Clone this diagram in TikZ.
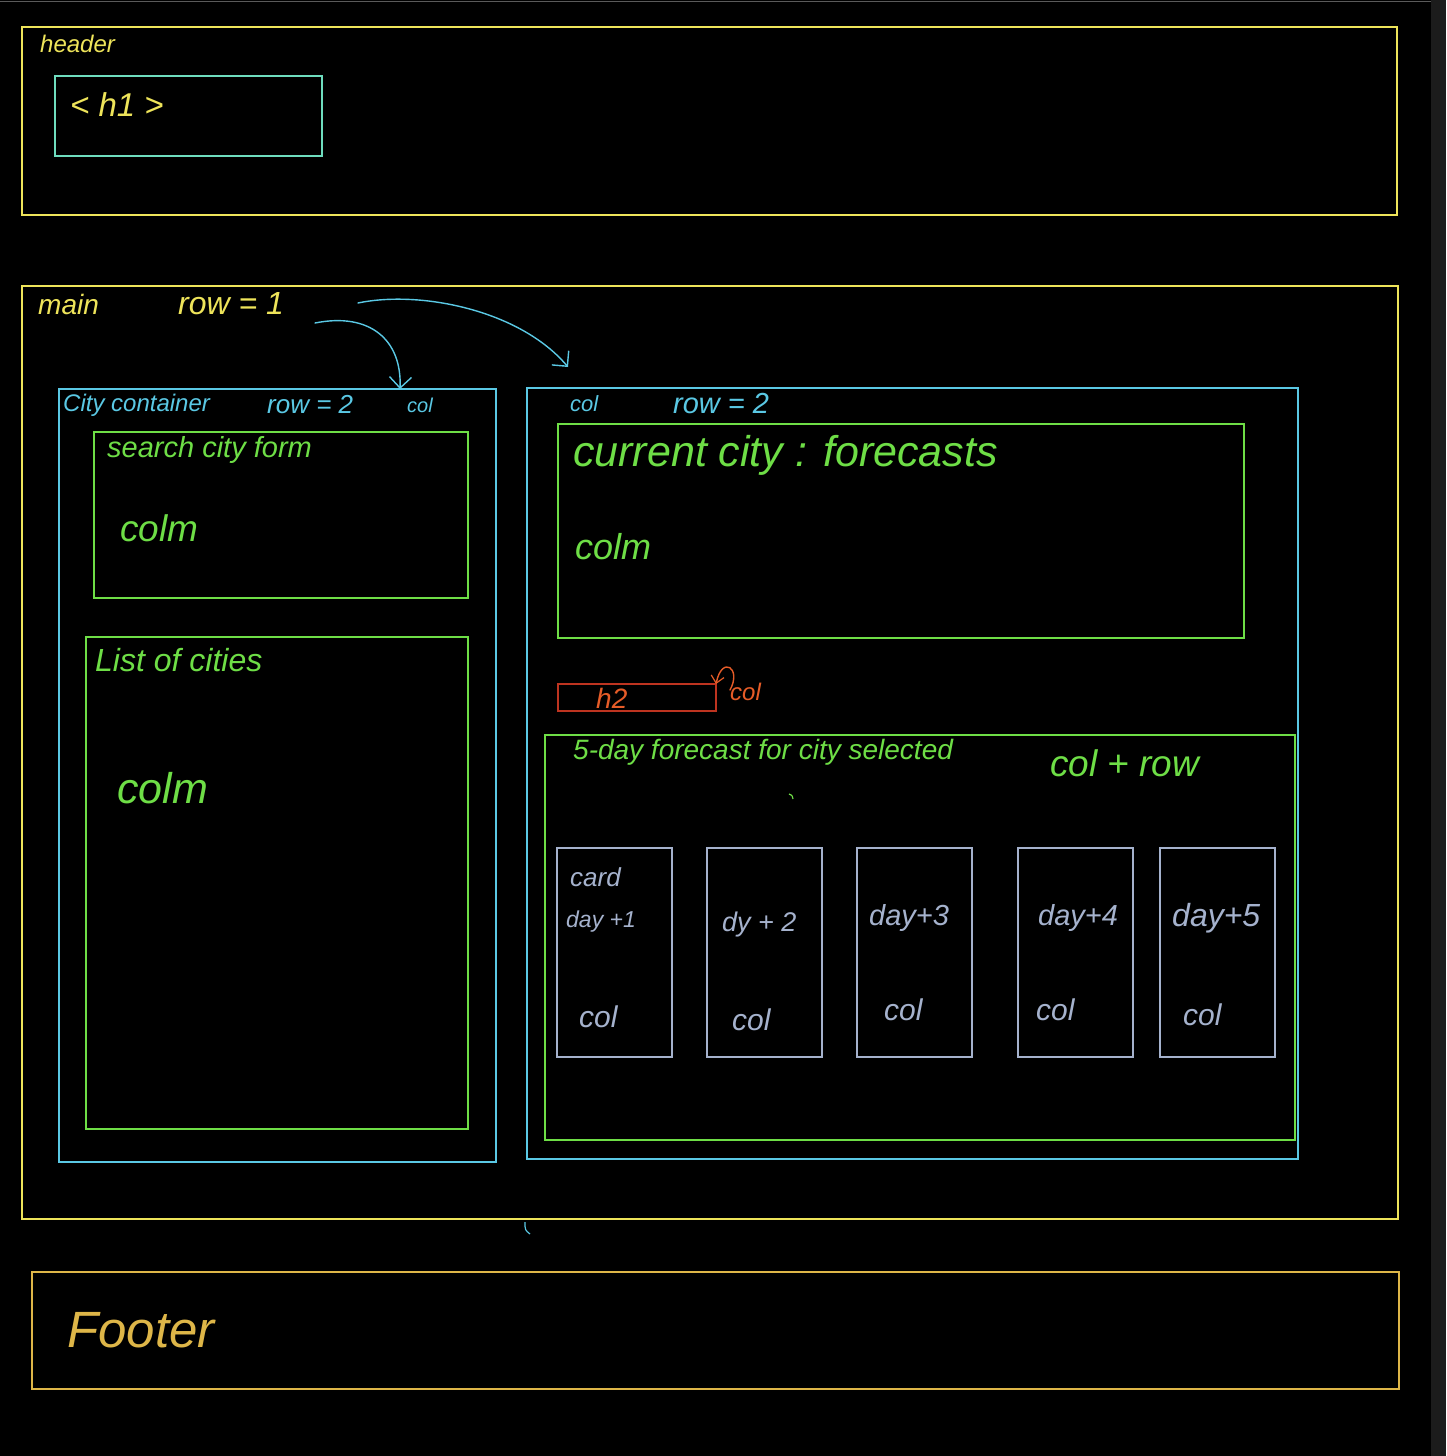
\documentclass[tikz,border=0pt]{standalone}
\usepackage{fontspec}
\setmainfont{Liberation Sans}
\usetikzlibrary{arrows.meta}
\definecolor{cYel}{RGB}{238,228,90}
\definecolor{cTeal}{RGB}{110,220,190}
\definecolor{cCyan}{RGB}{90,200,228}
\definecolor{cGreen}{RGB}{110,222,70}
\definecolor{cRedBox}{RGB}{190,52,32}
\definecolor{cOrange}{RGB}{230,92,40}
\definecolor{cCard}{RGB}{165,178,205}
\definecolor{cGold}{RGB}{222,182,72}
\definecolor{cStrip}{RGB}{28,28,28}
\definecolor{cTopLine}{RGB}{90,90,90}
\newcommand{\sz}[1]{\fontsize{#1}{#1}\selectfont}
\begin{document}
\begin{tikzpicture}[x=1pt,y=-1pt,
  box/.style={draw, line width=1.6pt, anchor=north west, inner sep=0pt, outer sep=0pt},
  lbl/.style={anchor=west, inner sep=0pt, font=\itshape},
  hand/.style={line width=1.4pt, line cap=round},
  barb/.style={-{Straight Barb[length=11pt,width=22pt,line width=1.4pt]}}
]
\useasboundingbox (0,0) rectangle (1446,1456);
\fill[black] (0,0) rectangle (1446,1456);
\fill[cStrip] (1431,0) rectangle (1446,1456);
\draw[cTopLine, line width=1pt] (0,1) -- (1431,1);

% header
\node[box, cYel, minimum width=1375pt, minimum height=188pt] (header) at (22,27) {};
\node[lbl, cYel] (headerT) at (40,44) {\sz{24}header};
\node[box, cTeal, minimum width=267pt, minimum height=80pt] (h1box) at (55,76) {};
\node[lbl, cYel] (h1T) at (70,105) {\sz{33}< h1 >};

% main
\node[box, cYel, minimum width=1376pt, minimum height=933pt] (main) at (22,286) {};
\node[lbl, cYel] (mainT) at (38,304) {\sz{28}main};
\node[lbl, cYel] (row1T) at (178,304) {\sz{32}row = 1};

% city container
\node[box, cCyan, minimum width=437pt, minimum height=773pt] (city) at (59,389) {};
\node[lbl, cCyan] (cityT) at (63,405) {\sz{24}City container};
\node[lbl, cCyan] (cityRow) at (267,405) {\sz{26}row = 2};
\node[lbl, cCyan] (cityCol) at (407,405) {\sz{20}col};

\node[box, cGreen, minimum width=374pt, minimum height=166pt] (search) at (94,432) {};
\node[lbl, cGreen] (searchT) at (107,450) {\sz{29}search city form};
\node[lbl, cGreen] (searchC) at (120,528) {\sz{37}colm};

\node[box, cGreen, minimum width=382pt, minimum height=492pt] (list) at (86,637) {};
\node[lbl, cGreen] (listT) at (95,660) {\sz{32}List of cities};
\node[lbl, cGreen] (listC) at (117,788) {\sz{43}colm};

% right column
\node[box, cCyan, minimum width=771pt, minimum height=771pt] (rcol) at (527,388) {};
\node[lbl, cCyan] (rcolT) at (570,404) {\sz{22}col};
\node[lbl, cCyan] (rcolRow) at (673,404) {\sz{29}row = 2};

\node[box, cGreen, minimum width=686pt, minimum height=214pt] (current) at (558,424) {};
\node[lbl, cGreen] (currentT) at (573,455) {\sz{43}current city : forecasts};
\node[lbl, cGreen] (currentC) at (575,547) {\sz{36}colm};

\node[box, cRedBox, minimum width=158pt, minimum height=27pt] (h2box) at (558,684) {};
\node[lbl, cOrange] (h2T) at (596,698) {\sz{28}h2};
\node[lbl, cOrange] (h2col) at (730,692) {\sz{24}col};

\node[box, cGreen, minimum width=750pt, minimum height=405pt] (five) at (545,735) {};
\node[lbl, cGreen] (fiveT) at (573,752) {\sz{28}5-day forecast for city selected};
\node[lbl, cGreen] (fiveC) at (1050,763) {\sz{37}col + row};

% cards
\node[box, cCard, minimum width=115pt, minimum height=209pt] (card1) at (557,848) {};
\node[box, cCard, minimum width=115pt, minimum height=209pt] (card2) at (707,848) {};
\node[box, cCard, minimum width=115pt, minimum height=209pt] (card3) at (857,848) {};
\node[box, cCard, minimum width=115pt, minimum height=209pt] (card4) at (1018,848) {};
\node[box, cCard, minimum width=115pt, minimum height=209pt] (card5) at (1160,848) {};
\node[lbl, cCard] (c1a) at (570,877) {\sz{26}card};
\node[lbl, cCard] (c1b) at (566,922) {\sz{23}day +1};
\node[lbl, cCard] (c1c) at (579,1017) {\sz{30}col};
\node[lbl, cCard] (c2a) at (722,925) {\sz{27}dy + 2};
\node[lbl, cCard] (c2c) at (732,1020) {\sz{30}col};
\node[lbl, cCard] (c3a) at (869,918) {\sz{29}day+3};
\node[lbl, cCard] (c3c) at (884,1010) {\sz{30}col};
\node[lbl, cCard] (c4a) at (1038,918) {\sz{29}day+4};
\node[lbl, cCard] (c4c) at (1036,1010) {\sz{30}col};
\node[lbl, cCard] (c5a) at (1172,918) {\sz{32}day+5};
\node[lbl, cCard] (c5c) at (1183,1015) {\sz{30}col};

% footer
\node[box, cGold, minimum width=1367pt, minimum height=117pt] (footer) at (32,1272) {};
\node[lbl, cGold] (footerT) at (67,1330) {\sz{51}Footer};

% arrows
\coordinate (a1s) at (315,323);
\coordinate (a1e) at (400,389);
\coordinate (a2s) at (358,303);
\coordinate (a2e) at (568,367);
\draw[cCyan, hand, barb] (a1s) .. controls (370,312) and (402,340) .. (a1e);
\draw[cCyan, hand, barb] (a2s) .. controls (420,290) and (520,310) .. (a2e);
\coordinate (rs) at (730,690);
\draw[cOrange, hand, -{Straight Barb[length=7pt,width=13pt,line width=1.2pt]}] (rs) .. controls (742,668) and (722,655) .. (h2box.north east);

% stray marks
\draw[cGreen, line width=1.2pt] (789,794) .. controls (792,795) .. (793,799);
\draw[cCyan, line width=1.2pt] (525,1222) .. controls (525,1230) .. (530,1234);
\end{tikzpicture}
\end{document}
